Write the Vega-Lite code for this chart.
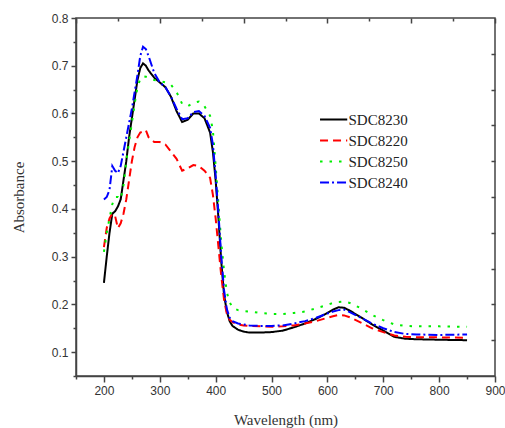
{
  "$schema": "https://vega.github.io/schema/vega-lite/v6.json",
  "width": 419,
  "height": 358,
  "autosize": {"type": "none"},
  "padding": {"left": 76, "top": 18, "right": 10, "bottom": 52},
  "background": "white",
  "config": {
    "view": {"stroke": "#444", "strokeWidth": 1.5},
    "axis": {"domainColor": "#444", "domainWidth": 1.5, "tickColor": "#444", "tickWidth": 1.5, "grid": false,
      "labelFont": "Liberation Sans", "labelFontSize": 12, "labelColor": "#333",
      "titleFont": "Liberation Serif", "titleFontSize": 15, "titleFontWeight": "normal", "titleColor": "#333"}
  },
  "datasets": {
    "spec": [
      {"s":"SDC8230","w":200,"a":0.245},{"s":"SDC8230","w":205,"a":0.30},{"s":"SDC8230","w":210,"a":0.35},{"s":"SDC8230","w":215,"a":0.39},{"s":"SDC8230","w":220,"a":0.395},{"s":"SDC8230","w":225,"a":0.405},{"s":"SDC8230","w":230,"a":0.42},{"s":"SDC8230","w":235,"a":0.46},{"s":"SDC8230","w":240,"a":0.50},{"s":"SDC8230","w":245,"a":0.55},{"s":"SDC8230","w":250,"a":0.59},{"s":"SDC8230","w":255,"a":0.63},{"s":"SDC8230","w":260,"a":0.67},{"s":"SDC8230","w":265,"a":0.695},{"s":"SDC8230","w":270,"a":0.705},{"s":"SDC8230","w":275,"a":0.70},{"s":"SDC8230","w":280,"a":0.69},{"s":"SDC8230","w":290,"a":0.675},{"s":"SDC8230","w":300,"a":0.665},{"s":"SDC8230","w":310,"a":0.655},{"s":"SDC8230","w":320,"a":0.635},{"s":"SDC8230","w":330,"a":0.605},{"s":"SDC8230","w":340,"a":0.582},{"s":"SDC8230","w":350,"a":0.587},{"s":"SDC8230","w":360,"a":0.60},{"s":"SDC8230","w":370,"a":0.60},{"s":"SDC8230","w":380,"a":0.59},{"s":"SDC8230","w":390,"a":0.56},{"s":"SDC8230","w":395,"a":0.52},{"s":"SDC8230","w":400,"a":0.46},{"s":"SDC8230","w":405,"a":0.38},{"s":"SDC8230","w":410,"a":0.29},{"s":"SDC8230","w":415,"a":0.22},{"s":"SDC8230","w":420,"a":0.185},{"s":"SDC8230","w":425,"a":0.165},{"s":"SDC8230","w":430,"a":0.155},{"s":"SDC8230","w":440,"a":0.147},{"s":"SDC8230","w":450,"a":0.143},{"s":"SDC8230","w":460,"a":0.141},{"s":"SDC8230","w":480,"a":0.141},{"s":"SDC8230","w":500,"a":0.142},{"s":"SDC8230","w":520,"a":0.145},{"s":"SDC8230","w":540,"a":0.152},{"s":"SDC8230","w":560,"a":0.160},{"s":"SDC8230","w":580,"a":0.170},{"s":"SDC8230","w":600,"a":0.182},{"s":"SDC8230","w":610,"a":0.189},{"s":"SDC8230","w":620,"a":0.194},{"s":"SDC8230","w":630,"a":0.193},{"s":"SDC8230","w":640,"a":0.187},{"s":"SDC8230","w":660,"a":0.173},{"s":"SDC8230","w":680,"a":0.158},{"s":"SDC8230","w":700,"a":0.145},{"s":"SDC8230","w":720,"a":0.132},{"s":"SDC8230","w":740,"a":0.128},{"s":"SDC8230","w":760,"a":0.127},{"s":"SDC8230","w":800,"a":0.126},{"s":"SDC8230","w":850,"a":0.125},
      {"s":"SDC8220","w":200,"a":0.32},{"s":"SDC8220","w":205,"a":0.36},{"s":"SDC8220","w":210,"a":0.38},{"s":"SDC8220","w":215,"a":0.39},{"s":"SDC8220","w":220,"a":0.385},{"s":"SDC8220","w":225,"a":0.36},{"s":"SDC8220","w":230,"a":0.37},{"s":"SDC8220","w":235,"a":0.39},{"s":"SDC8220","w":240,"a":0.42},{"s":"SDC8220","w":245,"a":0.46},{"s":"SDC8220","w":250,"a":0.50},{"s":"SDC8220","w":255,"a":0.53},{"s":"SDC8220","w":260,"a":0.55},{"s":"SDC8220","w":265,"a":0.56},{"s":"SDC8220","w":270,"a":0.562},{"s":"SDC8220","w":275,"a":0.565},{"s":"SDC8220","w":280,"a":0.55},{"s":"SDC8220","w":290,"a":0.54},{"s":"SDC8220","w":300,"a":0.54},{"s":"SDC8220","w":310,"a":0.535},{"s":"SDC8220","w":320,"a":0.52},{"s":"SDC8220","w":330,"a":0.505},{"s":"SDC8220","w":340,"a":0.48},{"s":"SDC8220","w":350,"a":0.485},{"s":"SDC8220","w":360,"a":0.492},{"s":"SDC8220","w":370,"a":0.49},{"s":"SDC8220","w":380,"a":0.48},{"s":"SDC8220","w":390,"a":0.465},{"s":"SDC8220","w":395,"a":0.43},{"s":"SDC8220","w":400,"a":0.38},{"s":"SDC8220","w":405,"a":0.32},{"s":"SDC8220","w":410,"a":0.26},{"s":"SDC8220","w":415,"a":0.21},{"s":"SDC8220","w":420,"a":0.18},{"s":"SDC8220","w":425,"a":0.168},{"s":"SDC8220","w":430,"a":0.163},{"s":"SDC8220","w":440,"a":0.158},{"s":"SDC8220","w":450,"a":0.156},{"s":"SDC8220","w":460,"a":0.155},{"s":"SDC8220","w":480,"a":0.154},{"s":"SDC8220","w":500,"a":0.153},{"s":"SDC8220","w":520,"a":0.154},{"s":"SDC8220","w":540,"a":0.156},{"s":"SDC8220","w":560,"a":0.160},{"s":"SDC8220","w":580,"a":0.165},{"s":"SDC8220","w":600,"a":0.172},{"s":"SDC8220","w":610,"a":0.175},{"s":"SDC8220","w":620,"a":0.178},{"s":"SDC8220","w":630,"a":0.177},{"s":"SDC8220","w":640,"a":0.173},{"s":"SDC8220","w":660,"a":0.162},{"s":"SDC8220","w":680,"a":0.150},{"s":"SDC8220","w":700,"a":0.142},{"s":"SDC8220","w":720,"a":0.135},{"s":"SDC8220","w":740,"a":0.132},{"s":"SDC8220","w":760,"a":0.131},{"s":"SDC8220","w":800,"a":0.131},{"s":"SDC8220","w":850,"a":0.130},
      {"s":"SDC8250","w":200,"a":0.31},{"s":"SDC8250","w":205,"a":0.35},{"s":"SDC8250","w":210,"a":0.38},{"s":"SDC8250","w":215,"a":0.41},{"s":"SDC8250","w":220,"a":0.425},{"s":"SDC8250","w":225,"a":0.425},{"s":"SDC8250","w":230,"a":0.42},{"s":"SDC8250","w":235,"a":0.45},{"s":"SDC8250","w":240,"a":0.50},{"s":"SDC8250","w":245,"a":0.54},{"s":"SDC8250","w":250,"a":0.58},{"s":"SDC8250","w":255,"a":0.62},{"s":"SDC8250","w":260,"a":0.655},{"s":"SDC8250","w":265,"a":0.672},{"s":"SDC8250","w":270,"a":0.678},{"s":"SDC8250","w":275,"a":0.677},{"s":"SDC8250","w":280,"a":0.675},{"s":"SDC8250","w":290,"a":0.67},{"s":"SDC8250","w":300,"a":0.668},{"s":"SDC8250","w":310,"a":0.665},{"s":"SDC8250","w":320,"a":0.66},{"s":"SDC8250","w":330,"a":0.645},{"s":"SDC8250","w":340,"a":0.62},{"s":"SDC8250","w":350,"a":0.615},{"s":"SDC8250","w":360,"a":0.622},{"s":"SDC8250","w":370,"a":0.625},{"s":"SDC8250","w":380,"a":0.615},{"s":"SDC8250","w":390,"a":0.595},{"s":"SDC8250","w":395,"a":0.565},{"s":"SDC8250","w":400,"a":0.49},{"s":"SDC8250","w":405,"a":0.41},{"s":"SDC8250","w":410,"a":0.33},{"s":"SDC8250","w":415,"a":0.27},{"s":"SDC8250","w":420,"a":0.225},{"s":"SDC8250","w":425,"a":0.205},{"s":"SDC8250","w":430,"a":0.193},{"s":"SDC8250","w":440,"a":0.188},{"s":"SDC8250","w":450,"a":0.186},{"s":"SDC8250","w":460,"a":0.185},{"s":"SDC8250","w":480,"a":0.182},{"s":"SDC8250","w":500,"a":0.180},{"s":"SDC8250","w":520,"a":0.180},{"s":"SDC8250","w":540,"a":0.182},{"s":"SDC8250","w":560,"a":0.185},{"s":"SDC8250","w":580,"a":0.192},{"s":"SDC8250","w":600,"a":0.199},{"s":"SDC8250","w":610,"a":0.203},{"s":"SDC8250","w":620,"a":0.205},{"s":"SDC8250","w":630,"a":0.206},{"s":"SDC8250","w":640,"a":0.203},{"s":"SDC8250","w":660,"a":0.192},{"s":"SDC8250","w":680,"a":0.178},{"s":"SDC8250","w":700,"a":0.167},{"s":"SDC8250","w":720,"a":0.158},{"s":"SDC8250","w":740,"a":0.155},{"s":"SDC8250","w":760,"a":0.154},{"s":"SDC8250","w":800,"a":0.154},{"s":"SDC8250","w":850,"a":0.153},
      {"s":"SDC8240","w":200,"a":0.42},{"s":"SDC8240","w":205,"a":0.425},{"s":"SDC8240","w":210,"a":0.44},{"s":"SDC8240","w":215,"a":0.49},{"s":"SDC8240","w":220,"a":0.48},{"s":"SDC8240","w":225,"a":0.475},{"s":"SDC8240","w":230,"a":0.49},{"s":"SDC8240","w":235,"a":0.52},{"s":"SDC8240","w":240,"a":0.55},{"s":"SDC8240","w":245,"a":0.58},{"s":"SDC8240","w":250,"a":0.61},{"s":"SDC8240","w":255,"a":0.645},{"s":"SDC8240","w":260,"a":0.68},{"s":"SDC8240","w":265,"a":0.72},{"s":"SDC8240","w":270,"a":0.74},{"s":"SDC8240","w":275,"a":0.735},{"s":"SDC8240","w":280,"a":0.72},{"s":"SDC8240","w":290,"a":0.685},{"s":"SDC8240","w":300,"a":0.665},{"s":"SDC8240","w":310,"a":0.655},{"s":"SDC8240","w":320,"a":0.635},{"s":"SDC8240","w":330,"a":0.61},{"s":"SDC8240","w":340,"a":0.588},{"s":"SDC8240","w":350,"a":0.59},{"s":"SDC8240","w":360,"a":0.603},{"s":"SDC8240","w":370,"a":0.605},{"s":"SDC8240","w":380,"a":0.595},{"s":"SDC8240","w":390,"a":0.57},{"s":"SDC8240","w":395,"a":0.535},{"s":"SDC8240","w":400,"a":0.47},{"s":"SDC8240","w":405,"a":0.39},{"s":"SDC8240","w":410,"a":0.30},{"s":"SDC8240","w":415,"a":0.23},{"s":"SDC8240","w":420,"a":0.19},{"s":"SDC8240","w":425,"a":0.172},{"s":"SDC8240","w":430,"a":0.165},{"s":"SDC8240","w":440,"a":0.16},{"s":"SDC8240","w":450,"a":0.158},{"s":"SDC8240","w":460,"a":0.156},{"s":"SDC8240","w":480,"a":0.155},{"s":"SDC8240","w":500,"a":0.155},{"s":"SDC8240","w":520,"a":0.156},{"s":"SDC8240","w":540,"a":0.160},{"s":"SDC8240","w":560,"a":0.165},{"s":"SDC8240","w":580,"a":0.172},{"s":"SDC8240","w":600,"a":0.181},{"s":"SDC8240","w":610,"a":0.185},{"s":"SDC8240","w":620,"a":0.188},{"s":"SDC8240","w":630,"a":0.189},{"s":"SDC8240","w":640,"a":0.184},{"s":"SDC8240","w":660,"a":0.172},{"s":"SDC8240","w":680,"a":0.160},{"s":"SDC8240","w":700,"a":0.150},{"s":"SDC8240","w":720,"a":0.142},{"s":"SDC8240","w":740,"a":0.138},{"s":"SDC8240","w":760,"a":0.137},{"s":"SDC8240","w":800,"a":0.136},{"s":"SDC8240","w":850,"a":0.137}
    ]
  },
  "data": {"name": "spec"},
  "resolve": {"axis": {"x": "independent", "y": "independent"}},
  "layer": [
    {
      "mark": {"type": "line", "strokeWidth": 2, "strokeCap": "butt", "clip": true},
      "encoding": {
        "x": {"field": "w", "type": "quantitative",
          "scale": {"domain": [150, 900], "nice": false, "zero": false},
          "axis": {"orient": "bottom", "title": "Wavelength (nm)",
            "values": [150,200,250,300,350,400,450,500,550,600,650,700,750,800,850,900],
            "labelExpr": "(datum.value % 100 == 0) ? datum.label : ''",
            "tickSize": {"condition": {"test": "datum.value % 100 != 0", "value": 3}, "value": 6},
            "labelPadding": 3, "titlePadding": 16, "labelFlush": false}},
        "y": {"field": "a", "type": "quantitative",
          "scale": {"domain": [0.05, 0.8], "nice": false, "zero": false},
          "axis": {"orient": "left", "title": "Absorbance",
            "values": [0.05,0.1,0.15,0.2,0.25,0.3,0.35,0.4,0.45,0.5,0.55,0.6,0.65,0.7,0.75,0.8],
            "labelExpr": "(round(datum.value*100) % 10 == 0) ? format(datum.value, '.1f') : ''",
            "tickSize": {"condition": {"test": "round(datum.value*100) % 10 != 0", "value": 3}, "value": 5},
            "labelPadding": 3, "titlePadding": 25, "labelFlush": false}},
        "color": {"field": "s", "type": "nominal",
          "scale": {"domain": ["SDC8230", "SDC8220", "SDC8250", "SDC8240"], "range": ["#000000", "#ff0000", "#00ee00", "#0000ff"]},
          "legend": {"title": null, "orient": "none", "legendX": 237, "legendY": 92,
            "symbolType": "M-0.3,0H3", "symbolSize": 272, "symbolStrokeWidth": 2,
            "labelFont": "Liberation Serif", "labelFontSize": 15, "labelColor": "#222", "labelOffset": 16.5,
            "rowPadding": 3}},
        "strokeDash": {"field": "s", "type": "nominal",
          "scale": {"domain": ["SDC8230", "SDC8220", "SDC8250", "SDC8240"], "range": [[1, 0], [8, 5], [2.5, 7], [9, 3, 2, 3]]},
          "legend": {"title": null}}
      }
    },
    {
      "mark": {"type": "line", "opacity": 0},
      "encoding": {
        "x": {"field": "w", "type": "quantitative",
          "axis": {"orient": "top", "title": null, "labels": false, "domain": false,
            "values": [150,225,300,375,450,525,600,675,750,825,900],
            "tickSize": {"condition": {"test": "round(datum.value) % 150 != 0", "value": -3}, "value": -5}}},
        "y": {"field": "a", "type": "quantitative",
          "axis": {"orient": "right", "title": null, "labels": false, "domain": false,
            "values": [0.125,0.2,0.275,0.35,0.425,0.5,0.575,0.65,0.725],
            "tickSize": -4}}
      }
    }
  ]
}
